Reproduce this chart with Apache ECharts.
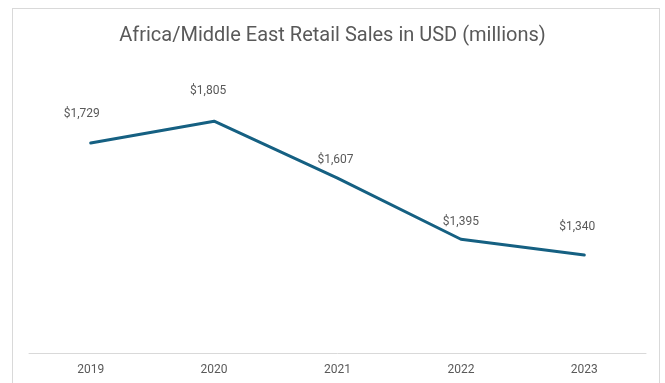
<!DOCTYPE html>
<html>
<head>
<meta charset="utf-8">
<script src="https://cdn.jsdelivr.net/npm/echarts@6/dist/echarts.min.js"></script>
<style>
  html, body { margin: 0; padding: 0; background: #fff; }
  #frame { position: absolute; left: 12px; top: 8px; width: 648px; height: 390px;
           border: 1px solid #d9d9d9; box-sizing: border-box; }
  #chart { position: absolute; left: 0; top: 0; width: 665px; height: 383px; }
</style>
</head>
<body>
<div id="frame"></div>
<div id="chart"></div>
<script>
// Annual retail sales, USD millions
const years = ['2019', '2020', '2021', '2022', '2023'];
const sales = [1729, 1805, 1607, 1395, 1340];

// Label nudges [dx, dy] so each value sits clear of the line
const labelNudge = [[-9, -12], [-6, -13], [-2, -1], [0, 0], [-7, -11]];

const fmt = v => '$' + v.toLocaleString('en-US');

const chart = echarts.init(document.getElementById('chart'), null, { renderer: 'canvas' });
chart.setOption({
  animation: false,
  title: {
    text: 'Africa/Middle East Retail Sales in USD (millions)',
    left: 'center',
    top: 21,
    textStyle: { fontFamily: 'Roboto', fontSize: 20, fontWeight: 'normal', color: '#595959' }
  },
  grid: { left: 29, right: 19, top: 65, bottom: 30 },
  xAxis: {
    type: 'category',
    data: years,
    boundaryGap: true,
    axisLine: { lineStyle: { color: '#d9d9d9', width: 1 } },
    axisTick: { show: false },
    axisLabel: { color: '#595959', fontFamily: 'Roboto', fontSize: 12, margin: 11 }
  },
  yAxis: {
    type: 'value',
    min: 1000,
    max: 2000,
    interval: 200,
    show: false
  },
  series: [{
    type: 'line',
    data: sales.map((v, i) => ({
      value: v,
      label: {
        show: true,
        position: 'top',
        distance: 10,
        offset: labelNudge[i],
        formatter: p => fmt(p.value),
        color: '#595959',
        fontFamily: 'Roboto',
        fontSize: 12
      }
    })),
    symbol: 'circle',
    symbolSize: 2,
    showSymbol: true,
    itemStyle: { color: 'rgba(0,0,0,0)', borderWidth: 0 },
    lineStyle: { color: '#156082', width: 3, cap: 'round', join: 'round' }
  }]
});
</script>
</body>
</html>
